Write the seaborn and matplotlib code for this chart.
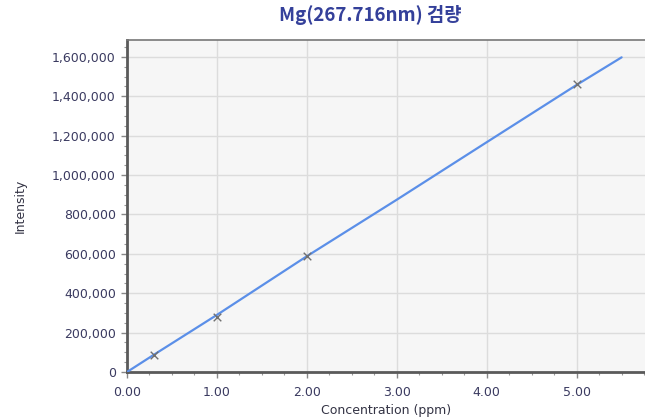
import matplotlib
matplotlib.use("Agg")
import matplotlib.pyplot as plt
import numpy as np
import pandas as pd
import seaborn as sns
from matplotlib.ticker import FuncFormatter, MultipleLocator

# calibration standards (ppm, intensity)
std_conc = [0.3, 1.0, 2.0, 5.0]
std_intensity = [86000, 279000, 589000, 1462000]

# fitted calibration curve
curve_conc = [0.0, 0.3, 1.0, 2.0, 3.0, 4.0, 5.0, 5.5]
curve_intensity = [0, 88000, 290000, 588000, 875000, 1167000, 1458000, 1598000]

title = "Mg(267.716nm) 검량"
x_label = "Concentration (ppm)"
y_label = "Intensity"

sns.set_theme(style="whitegrid")
plt.rcParams["font.family"] = ["DejaVu Sans", "Noto Sans CJK KR"]

fig = plt.figure(figsize=(6.45, 4.2), dpi=100)
ax = fig.add_axes([127 / 645, 48 / 420, 518 / 645, 332 / 420])
ax.set_facecolor("#f6f6f6")

curve = pd.DataFrame({"conc": curve_conc, "intensity": curve_intensity})
stds = pd.DataFrame({"conc": std_conc, "intensity": std_intensity})

sns.lineplot(data=curve, x="conc", y="intensity", ax=ax,
             color="#5b8fe8", linewidth=1.6, zorder=3)
sns.scatterplot(data=stds, x="conc", y="intensity", ax=ax, marker="x",
                s=30, color="#707070", linewidth=1.0, zorder=4)

ax.set_xlim(0, 5.76)
ax.set_ylim(0, 1686000)
ax.xaxis.set_major_locator(MultipleLocator(1.0))
ax.xaxis.set_minor_locator(MultipleLocator(0.25))
ax.yaxis.set_major_locator(MultipleLocator(200000))
ax.yaxis.set_minor_locator(MultipleLocator(50000))
ax.xaxis.set_major_formatter(FuncFormatter(lambda v, _: f"{v:.2f}"))
ax.yaxis.set_major_formatter(FuncFormatter(lambda v, _: f"{int(v):,}"))

ax.grid(True, which="major", color="#dcdcdc", linewidth=1.0)
ax.grid(False, which="minor")
ax.tick_params(axis="both", which="major", length=4, width=1, color="#888888",
               labelsize=9, labelcolor="#3a3a60", direction="out",
               bottom=True, left=True)
ax.tick_params(axis="x", which="major", pad=6)
ax.tick_params(axis="y", which="major", pad=4)
ax.tick_params(axis="both", which="minor", length=2.5, width=0.8,
               color="#999999", direction="out", bottom=True, left=True)

for side in ["left", "bottom"]:
    ax.spines[side].set_color("#5a5a5a")
    ax.spines[side].set_linewidth(2.0)
ax.spines["top"].set_color("#777777")
ax.spines["top"].set_linewidth(1.2)
ax.spines["right"].set_visible(False)

ax.set_xlabel(x_label, fontsize=9, color="#333344", labelpad=4)
ax.set_ylabel(y_label, fontsize=9, color="#333344", labelpad=18)

fig.text(370 / 645, 1 - 15 / 420, title, ha="center", va="center",
         fontsize=13.5, fontweight="bold", color="#34409a",
         family=["Noto Sans CJK KR", "DejaVu Sans"])

fig.savefig("out.png", dpi=100)
